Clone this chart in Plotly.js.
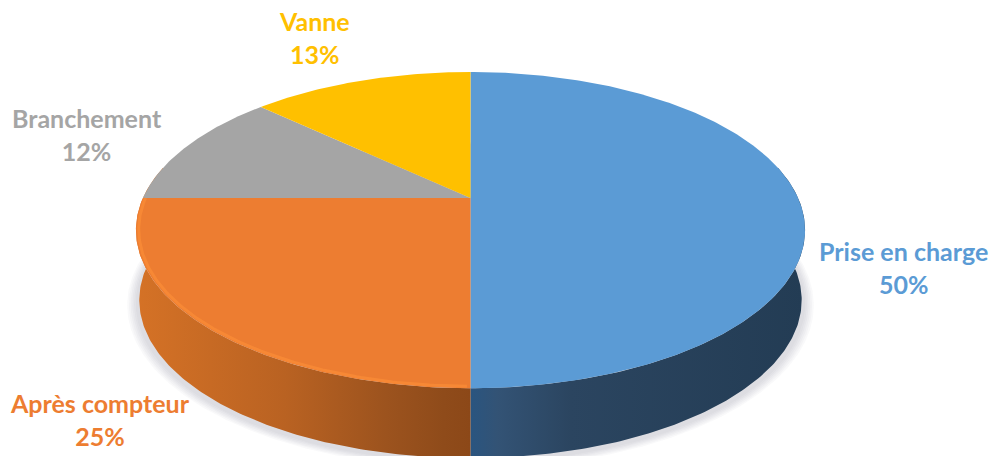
<!DOCTYPE html>
<html><head><meta charset="utf-8">
<script src="https://cdn.plot.ly/plotly-3.0.1.min.js"></script>
<style>html,body{margin:0;padding:0;background:#fff;overflow:hidden}#c{width:989px;height:456px}</style>
</head><body><div id="c"></div>
<script>
const categories = ['Prise en charge', 'Après compteur', 'Branchement', 'Vanne'];
const shares = [50, 25, 12, 13];
const sliceColors = ['#5b9bd5', '#ed7d31', '#a5a5a5', '#ffc000'];
const labelCenters = [[903, 267], [100, 419], [87, 134], [314, 37]];
const blueWallScale = [[0, '#2a5580'], [0.08, '#335375'], [0.3, '#2b4560'], [1, '#233c54']];
const orangeWallScale = [[0, '#d57226'], [0.45, '#b96222'], [0.75, '#9c531e'], [0.92, '#8f4b1a'], [1, '#8c4818']];

// perspective disc: apex of slices on screen, and foreshortening
const apexX = 470.5, apexY = 198, k = 0.203, a = 151.6, c = 327.6, depth = 70;
function disc(deg, scale, dy, shrink) {
  const t = deg * Math.PI / 180, u = Math.sin(t) * scale, v = Math.cos(t) * scale, d = 1 + k * v;
  return [apexX + (shrink || 1) * c * u / d, apexY + (dy || 0) - a * v / d];
}
function arc(from, to, scale, dy, shrink) {
  const pts = [], n = Math.max(2, Math.ceil(Math.abs(to - from) * 1.5));
  for (let i = 0; i <= n; i++) pts.push(disc(from + (to - from) * i / n, scale, dy, shrink));
  return pts;
}
const xs = p => p.map(q => q[0]), ys = p => p.map(q => q[1]);
function fillTrace(pts, color, extra) {
  return Object.assign({type: 'scatter', mode: 'lines', x: xs(pts), y: ys(pts), fill: 'toself',
    fillcolor: color, line: {width: 0, color: color}, hoverinfo: 'skip', showlegend: false}, extra || {});
}

const traces = [];
// soft shadow under the puck
for (let i = 6; i >= 1; i--) {
  const s = 1 + i * 0.005;
  traces.push(fillTrace(arc(0, 360, s, depth + 3, 0.995), 'rgba(120,125,140,0.045)'));
}
// side wall: blue half and orange half
function wall(from, to, x0, x1, scale, shrink) {
  const pts = arc(from, to, 1, 0, 1).concat(arc(to, from, 1, depth, shrink));
  return {type: 'scatter', mode: 'lines', x: xs(pts), y: ys(pts), fill: 'toself',
    fillgradient: {type: 'horizontal', colorscale: scale, start: x0, stop: x1},
    line: {width: 0}, hoverinfo: 'skip', showlegend: false};
}
traces.push(wall(78, 180, apexX, 805, blueWallScale, 0.99));
traces.push(wall(180, 282, 135, apexX, orangeWallScale, 0.99));

// top face: each slice swept from its share of the total
const total = shares.reduce((s, v) => s + v, 0);
let start = 0;
const spans = shares.map(v => { const r = [start, start + v / total * 360]; start = r[1]; return r; });
shares.forEach((v, i) => {
  const pts = [[apexX, apexY]].concat(arc(spans[i][0], spans[i][1], 1)).concat([[apexX, apexY]]);
  traces.push(fillTrace(pts, sliceColors[i], {name: categories[i]}));
});
// bevel highlight on the orange rim
const rim = arc(spans[1][0] + 0.5, spans[1][1], 0.992);
traces.push({type: 'scatter', mode: 'lines', x: xs(rim), y: ys(rim),
  line: {width: 3, color: 'rgba(250,140,55,0.75)'}, hoverinfo: 'skip', showlegend: false});

const annotations = categories.map((name, i) => ({
  xref: 'x', yref: 'y', x: labelCenters[i][0], y: labelCenters[i][1], showarrow: false,
  xanchor: 'center', yanchor: 'middle', align: 'center',
  text: name + '<br>' + shares[i] + '%',
  font: {family: 'Lato, "Open Sans", sans-serif', size: 25, weight: 700, color: sliceColors[i]}
}));

const hidden = {visible: false, fixedrange: true};
Plotly.newPlot('c', traces, {
  width: 989, height: 456, margin: {l: 0, r: 0, t: 0, b: 0},
  paper_bgcolor: '#fff', plot_bgcolor: '#fff', showlegend: false,
  xaxis: Object.assign({range: [0, 989]}, hidden),
  yaxis: Object.assign({range: [456, 0]}, hidden),
  annotations: annotations
}, {displayModeBar: false, staticPlot: true});
</script></body></html>
